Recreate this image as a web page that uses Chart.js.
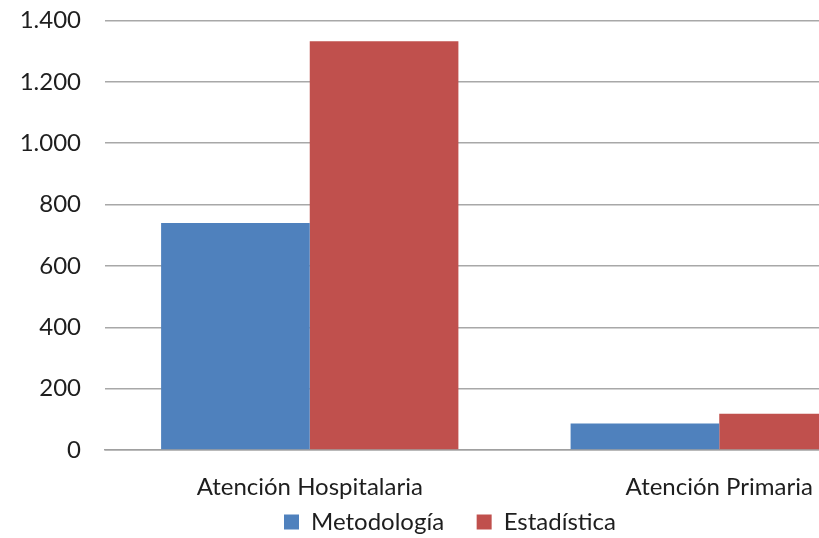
<!DOCTYPE html>
<html>
<head>
<meta charset="utf-8">
<script src="https://cdn.jsdelivr.net/npm/chart.js@4"></script>
<style>
html,body{margin:0;padding:0;background:#fff;overflow:hidden;}
#wrap{position:relative;width:819px;height:538px;overflow:hidden;}
#inner{position:absolute;left:-24px;top:-18px;width:948px;height:562px;}
</style>
</head>
<body>
<div id="wrap"><div id="inner"><canvas id="c" width="948" height="562"></canvas></div></div>
<script>
const categories = ['Atención Hospitalaria', 'Atención Primaria'];
const metodologia = [740, 86];
const estadistica = [1332, 118];
const yTicks = [0, 200, 400, 600, 800, 1000, 1200, 1400];

const FONT = 'Lato, "Open Sans", sans-serif';
const FS = 24;
function fmt(v){ return String(v).replace(/\B(?=(\d{3})+(?!\d))/g, '.'); }

new Chart(document.getElementById('c'), {
  type: 'bar',
  data: {
    labels: categories,
    datasets: [
      { label: 'Metodología', data: metodologia, backgroundColor: '#4F81BD', borderWidth: 0 },
      { label: 'Estadística', data: estadistica, backgroundColor: '#C0504D', borderWidth: 0 }
    ]
  },
  options: {
    responsive: false,
    animation: false,
    datasets: { bar: { categoryPercentage: 0.726, barPercentage: 1.0 } },
    layout: { padding: { top: 8, right: 0, left: 0, bottom: 0 } },
    plugins: {
      tooltip: { enabled: false },
      legend: {
        position: 'bottom',
        labels: {
          font: { family: FONT, size: FS },
          color: '#1e1e1e',
          boxWidth: 15,
          boxHeight: 15,
          padding: 8,
          generateLabels: (chart) => {
            const items = Chart.defaults.plugins.legend.labels.generateLabels(chart);
            items.forEach((it, i) => { it.lineWidth = 0; if (i < items.length - 1) it.text = it.text + '    '; });
            return items;
          }
        }
      }
    },
    scales: {
      x: {
        afterFit: (axis) => { axis.height = 52; },
        grid: { display: false },
        border: { display: true, color: '#A0A0A0', width: 1.5 },
        ticks: { font: { family: FONT, size: FS }, color: '#1e1e1e', padding: 15 }
      },
      y: {
        min: 0, max: 1400,
        afterBuildTicks: (axis) => { axis.ticks = yTicks.map(v => ({ value: v })); },
        afterFit: (axis) => { axis.width = 129; },
        grid: { color: '#A8A8A8', lineWidth: 1.5, drawTicks: false },
        border: { display: false },
        ticks: { font: { family: FONT, size: FS }, color: '#1e1e1e', padding: 24, callback: (v) => fmt(v) }
      }
    }
  }
});
</script>
</body>
</html>
